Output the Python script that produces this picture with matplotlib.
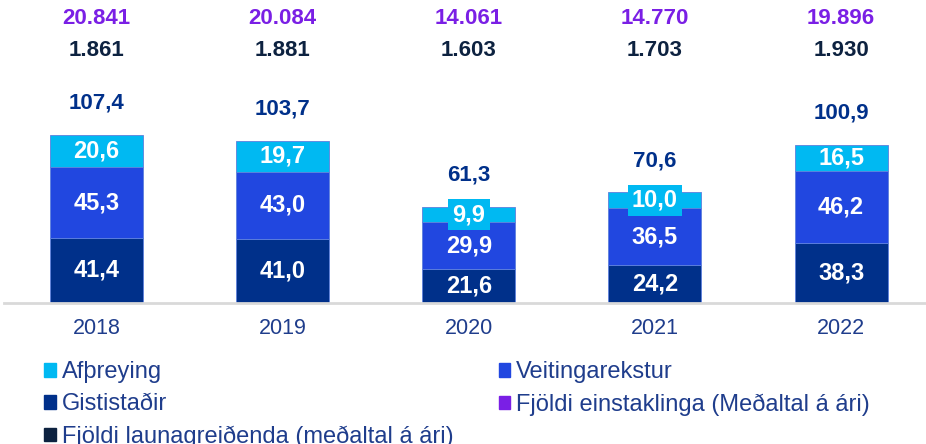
import matplotlib.pyplot as plt
from matplotlib.patches import Patch

years = ['2018', '2019', '2020', '2021', '2022']
gisti = [41.4, 41.0, 21.6, 24.2, 38.3]
veit = [45.3, 43.0, 29.9, 36.5, 46.2]
afth = [20.6, 19.7, 9.9, 10.0, 16.5]
totals = [107.4, 103.7, 61.3, 70.6, 100.9]
launagr = ['1.861', '1.881', '1.603', '1.703', '1.930']
einst = ['20.841', '20.084', '14.061', '14.770', '19.896']

c_afth = '#00B9F2'
c_veit = '#2147E0'
c_gisti = '#00308A'
c_einst = '#7A1FE5'
c_laun = '#0D2240'
c_text = '#1F3D8C'

plt.rcParams['font.family'] = ['Liberation Sans', 'DejaVu Sans']

fig = plt.figure(figsize=(9.26, 4.44), dpi=100)
ax = fig.add_axes([0.0038, 0.318, 1.005, 0.682])

x = list(range(len(years)))
w = 0.5
edge = dict(edgecolor='#5d80dc', linewidth=0.6)
ax.bar(x, gisti, w, color=c_gisti, **edge)
ax.bar(x, veit, w, bottom=gisti, color=c_veit, **edge)
bot2 = [a + b for a, b in zip(gisti, veit)]
ax.bar(x, afth, w, bottom=bot2, color=c_afth, **edge)

seg = dict(ha='center', va='center', fontsize=17, fontweight='bold', color='white')
top = dict(ha='center', va='center', fontsize=16, fontweight='bold')
for i in x:
    ax.text(i, gisti[i] / 2, f'{gisti[i]:.1f}'.replace('.', ','), **seg)
    ax.text(i, gisti[i] + veit[i] / 2, f'{veit[i]:.1f}'.replace('.', ','), **seg)
    # small segments get a label box in the segment colour
    box = None
    if afth[i] < 12:
        box = dict(boxstyle='square,pad=0.18', facecolor=c_afth, edgecolor='none')
    ax.text(i, bot2[i] + afth[i] / 2, f'{afth[i]:.1f}'.replace('.', ','), bbox=box, **seg)
    ax.text(i, totals[i] + 20.5, f'{totals[i]:.1f}'.replace('.', ','), color=c_gisti, **top)
    ax.text(i, 161.5, launagr[i], color=c_laun, **top)
    ax.text(i, 182, einst[i], color=c_einst, **top)

ax.set_xlim(-0.5, 4.5)
ax.set_ylim(0, 194)
for s in ['top', 'right', 'left']:
    ax.spines[s].set_visible(False)
ax.spines['bottom'].set_color('#d9d9d9')
ax.spines['bottom'].set_linewidth(2)
ax.set_yticks([])
ax.set_xticks(x)
ax.set_xticklabels(years, fontsize=15.5, color='#1F3D8C')
ax.tick_params(axis='x', length=0, pad=11)

handles = [
    Patch(color=c_afth, label='Afþreying'),
    Patch(color=c_gisti, label='Gististaðir'),
    Patch(color=c_laun, label='Fjöldi launagreiðenda (meðaltal á ári)'),
    Patch(color=c_veit, label='Veitingarekstur'),
    Patch(color=c_einst, label='Fjöldi einstaklinga (Meðaltal á ári)'),
]
leg = fig.legend(handles=handles, ncol=2, loc='lower left', bbox_to_anchor=(0.025, -0.056),
                 frameon=False, fontsize=17, handlelength=0.5, handleheight=0.5,
                 handletextpad=0.25, columnspacing=1.9, labelspacing=0.42)
for t in leg.get_texts():
    t.set_color(c_text)

fig.savefig('out.png', dpi=100)
